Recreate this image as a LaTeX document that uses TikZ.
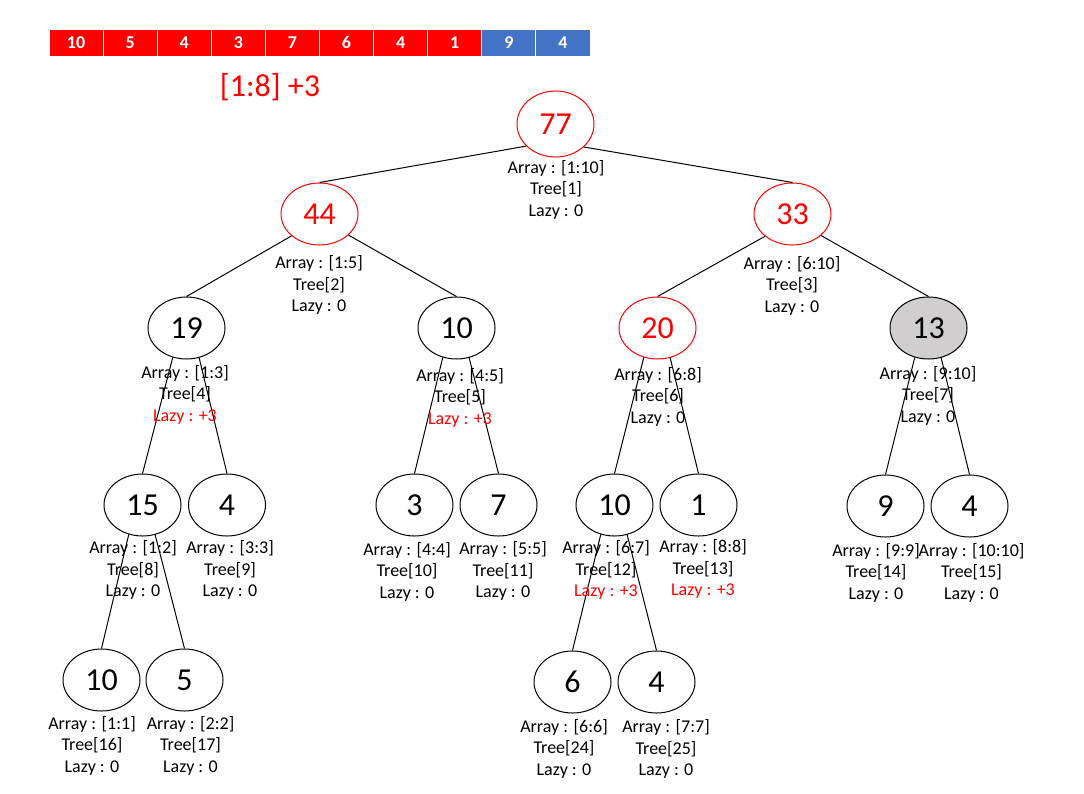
\documentclass[tikz,border=0pt]{standalone}
\usepackage{fontspec}
\setmainfont{Carlito}
\usetikzlibrary{shapes.geometric}
\definecolor{cellred}{RGB}{255,0,0}
\definecolor{cellblue}{RGB}{68,114,196}
\definecolor{nodegray}{RGB}{208,206,206}
\newcommand{\treelabel}[7]{%
  \node[lbl] (#1a) at (#2,#3) {#4};
  \node[lbl] (#1b) at (#2,#3+21.5) {#5};
  \node[lbl,text=#7] (#1c) at (#2,#3+43) {#6};}
\begin{document}
\begin{tikzpicture}[x=0.75pt,y=-0.75pt,
  tn/.style={ellipse, draw=black, line width=0.75pt, fill=white,
    minimum width=57.75pt, minimum height=46.5pt, inner sep=0pt,
    font=\fontsize{24}{28}\selectfont},
  rn/.style={tn, draw=red, text=red},
  gn/.style={tn, fill=nodegray},
  lbl/.style={anchor=base, inner sep=0pt, font=\fontsize{13.5}{16}\selectfont},
  edge/.style={draw=black, line width=0.75pt},
  cell/.style={draw=white, line width=0.75pt, text=white, inner sep=0pt,
    minimum width=40.575pt, minimum height=20.25pt,
    font=\bfseries\fontsize{13.5}{15}\selectfont}]
\fill[white] (0,0) rectangle (1084,793);
\useasboundingbox (0,0) rectangle (1084,793);

% array bar
\foreach \v/\c [count=\i] in {10/cellred,5/cellred,4/cellred,3/cellred,7/cellred,6/cellred,4/cellred,1/cellred,9/cellblue,4/cellblue}
  \node[cell, fill=\c] (c\i) at ({49+54.1*(\i-0.5)},42.5) {\v};

\node[text=red, inner sep=0pt, font=\fontsize{24}{28}\selectfont] (title) at (270,87) {[1:8] +3};

% tree nodes
\node[rn, minimum height=49.5pt] (n1) at (555.5,124) {77};
\node[rn] (n2) at (319.5,214) {44};
\node[rn] (n3) at (792.5,214) {33};
\node[tn] (n4) at (186.5,328) {19};
\node[tn] (n5) at (456.5,328) {10};
\node[rn] (n6) at (657.5,328) {20};
\node[gn] (n7) at (928.5,328) {13};
\node[tn] (n8) at (142.5,505) {15};
\node[tn] (n9) at (227,505) {4};
\node[tn] (n10) at (414.5,505) {3};
\node[tn] (n11) at (498.5,505) {7};
\node[tn] (n12) at (614.5,505) {10};
\node[tn] (n13) at (698.5,505) {1};
\node[tn] (n14) at (885.5,506) {9};
\node[tn] (n15) at (969.5,506) {4};
\node[tn] (n16) at (101.5,680) {10};
\node[tn] (n17) at (184.5,680) {5};
\node[tn] (n24) at (572.5,682) {6};
\node[tn] (n25) at (656.5,682) {4};

% connectors
\draw[edge] (n1.217) -- (n2.north);
\draw[edge] (n1.321) -- (n3.north);
\draw[edge] (n2.218) -- (n4.north);
\draw[edge] (n2.324) -- (n5.north);
\draw[edge] (n3.219) -- (n6.north);
\draw[edge] (n3.323) -- (n7.north);
\draw[edge] (n4.245) -- (n8.north);
\draw[edge] (n4.293) -- (n9.north);
\draw[edge] (n5.245) -- (n10.north);
\draw[edge] (n5.293) -- (n11.north);
\draw[edge] (n6.245) -- (n12.north);
\draw[edge] (n6.293) -- (n13.north);
\draw[edge] (n7.245) -- (n14.north);
\draw[edge] (n7.293) -- (n15.north);
\draw[edge] (n8.245) -- (n16.north);
\draw[edge] (n8.293) -- (n17.north);
\draw[edge] (n12.245) -- (n24.north);
\draw[edge] (n12.293) -- (n25.north);

% labels
\treelabel{l1}{556}{173}{Array : [1:10]}{Tree[1]}{Lazy : 0}{black}
\treelabel{l2}{319}{268.5}{Array : [1:5]}{Tree[2]}{Lazy : 0}{black}
\treelabel{l3}{792}{269}{Array : [6:10]}{Tree[3]}{Lazy : 0}{black}
\treelabel{l4}{185}{378}{Array : [1:3]}{Tree[4]}{Lazy : +3}{red}
\treelabel{l5}{460}{381}{Array : [4:5]}{Tree[5]}{Lazy : +3}{red}
\treelabel{l6}{658}{380}{Array : [6:8]}{Tree[6]}{Lazy : 0}{black}
\treelabel{l7}{928}{379}{Array : [9:10]}{Tree[7]}{Lazy : 0}{black}
\treelabel{l8}{133}{553.5}{Array : [1:2]}{Tree[8]}{Lazy : 0}{black}
\treelabel{l9}{230}{553.5}{Array : [3:3]}{Tree[9]}{Lazy : 0}{black}
\treelabel{l10}{407}{555}{Array : [4:4]}{Tree[10]}{Lazy : 0}{black}
\treelabel{l11}{503}{554.5}{Array : [5:5]}{Tree[11]}{Lazy : 0}{black}
\treelabel{l12}{606}{553.5}{Array : [6:7]}{Tree[12]}{Lazy : +3}{red}
\treelabel{l13}{703}{552.5}{Array : [8:8]}{Tree[13]}{Lazy : +3}{red}
\treelabel{l14}{876}{556}{Array : [9:9]}{Tree[14]}{Lazy : 0}{black}
\treelabel{l15}{971.5}{556}{Array : [10:10]}{Tree[15]}{Lazy : 0}{black}
\treelabel{l16}{92}{729}{Array : [1:1]}{Tree[16]}{Lazy : 0}{black}
\treelabel{l17}{190.5}{729}{Array : [2:2]}{Tree[17]}{Lazy : 0}{black}
\treelabel{l24}{564}{732}{Array : [6:6]}{Tree[24]}{Lazy : 0}{black}
\treelabel{l25}{666}{732.5}{Array : [7:7]}{Tree[25]}{Lazy : 0}{black}
\end{tikzpicture}
\end{document}
